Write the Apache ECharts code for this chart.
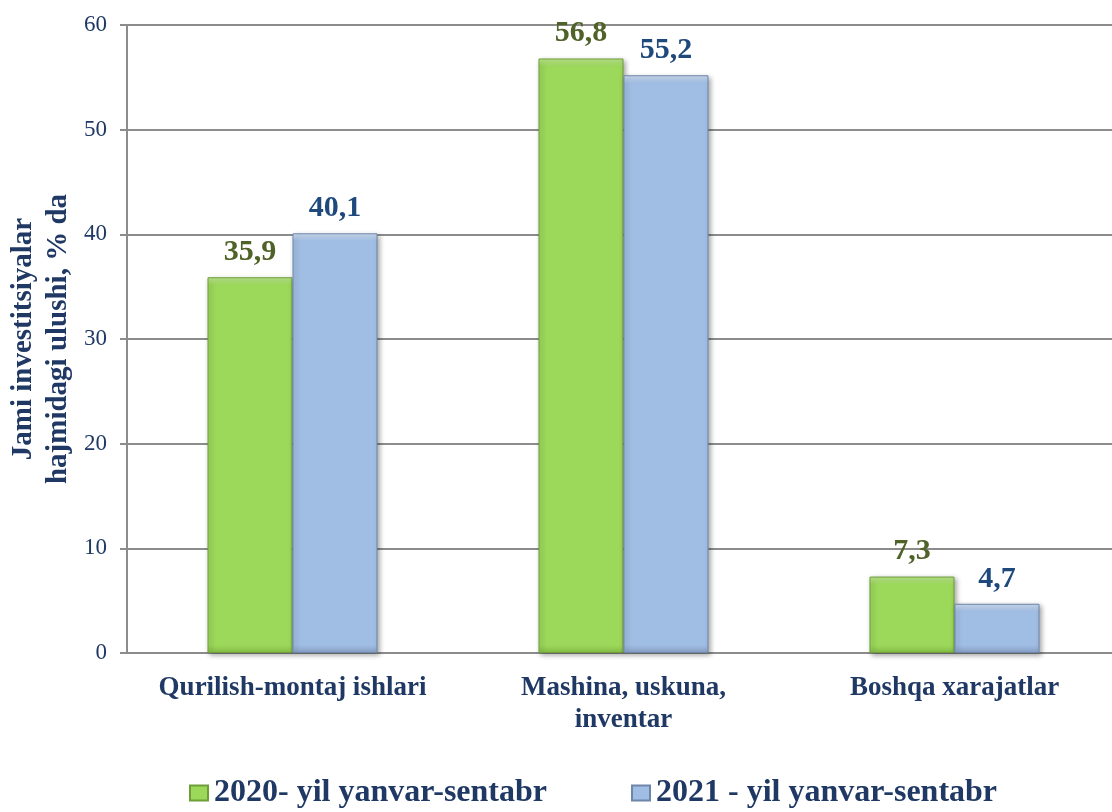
<!DOCTYPE html>
<html>
<head>
<meta charset="utf-8">
<script src="https://cdn.jsdelivr.net/npm/echarts@6/dist/echarts.min.js"></script>
<style>html,body{margin:0;padding:0;background:#fff;}#c{width:1112px;height:812px;}</style>
</head>
<body>
<div id="c"></div>
<script>
const categories = ['Qurilish-montaj ishlari', 'Mashina, uskuna,\ninventar', 'Boshqa xarajatlar'];
const series2020 = [35.9, 56.8, 7.3];
const series2021 = [40.1, 55.2, 4.7];
const seriesNames = ['2020- yil yanvar-sentabr', '2021 - yil yanvar-sentabr'];
const yTicks = [0, 10, 20, 30, 40, 50, 60];

const FONT = '"Liberation Serif", "Times New Roman", serif';
const NAVY = '#1F3864';
const PLOT_H = 628;
const chart = echarts.init(document.getElementById('c'));
const fmt = p => String(p.value).replace('.', ',');

// bevel-like gradient: light top band and darker bottom band of fixed pixel thickness
function bevel(v, top, body, bottom) {
  const h = v / yTicks[yTicks.length - 1] * PLOT_H;
  const t = Math.min(0.45, 8 / h);
  return new echarts.graphic.LinearGradient(0, 0, 0, 1, [
    { offset: 0, color: top },
    { offset: t, color: body },
    { offset: 1 - t, color: body },
    { offset: 1, color: bottom }
  ]);
}
const GREEN = ['#BDE98F', '#9CD85A', '#86BE48'];
const BLUE = ['#CFE0F5', '#A0BDE3', '#879FC6'];
const items = (arr, c) => arr.map(v => ({ value: v, itemStyle: { color: bevel(v, c[0], c[1], c[2]) } }));

chart.setOption({
  backgroundColor: '#fff',
  textStyle: { fontFamily: FONT },
  grid: { left: 127, top: 25, width: 993, height: PLOT_H, containLabel: false, outerBoundsMode: 'none' },
  legend: {
    top: 777,
    left: 189,
    padding: 0,
    itemWidth: 18,
    itemHeight: 15,
    itemGap: 84,
    icon: 'rect',
    textStyle: { fontFamily: FONT, fontSize: 32, fontWeight: 'bold', color: NAVY, padding: [0, 0, 0, 1] },
    data: seriesNames
  },
  xAxis: {
    type: 'category',
    data: categories,
    axisLine: { lineStyle: { color: '#8C8C8C', width: 2 } },
    axisTick: { show: false },
    axisLabel: { interval: 0, fontFamily: FONT, fontSize: 27, fontWeight: 'bold', color: NAVY, margin: 19, lineHeight: 32 }
  },
  yAxis: {
    type: 'value',
    min: yTicks[0],
    max: yTicks[yTicks.length - 1],
    interval: 10,
    name: 'Jami investitsiyalar\nhajmidagi ulushi, % da',
    nameLocation: 'middle',
    nameRotate: 90,
    nameGap: 51,
    nameMoveOverlap: false,
    nameTextStyle: { fontFamily: FONT, fontSize: 29, fontWeight: 'bold', color: NAVY, lineHeight: 35 },
    axisLine: { show: true, lineStyle: { color: '#8C8C8C', width: 2 } },
    axisTick: { show: true, length: 7, lineStyle: { color: '#8C8C8C', width: 2 } },
    axisLabel: { fontFamily: FONT, fontSize: 23, color: NAVY, margin: 20 },
    splitLine: { lineStyle: { color: '#8C8C8C', width: 2 } }
  },
  series: [
    {
      name: seriesNames[0],
      type: 'bar',
      data: items(series2020, GREEN),
      barWidth: 85,
      barGap: '0%',
      itemStyle: {
        color: GREEN[1],
        borderColor: '#6F9D38',
        borderWidth: 1,
        shadowColor: 'rgba(0,0,0,0.35)',
        shadowBlur: 5,
        shadowOffsetX: 2,
        shadowOffsetY: 2
      },
      label: { show: true, position: 'top', distance: 10, formatter: fmt, fontFamily: FONT, fontSize: 30, fontWeight: 'bold', color: '#4F6228' }
    },
    {
      name: seriesNames[1],
      type: 'bar',
      data: items(series2021, BLUE),
      barWidth: 85,
      itemStyle: {
        color: BLUE[1],
        borderColor: '#6E86A9',
        borderWidth: 1,
        shadowColor: 'rgba(0,0,0,0.35)',
        shadowBlur: 5,
        shadowOffsetX: 2,
        shadowOffsetY: 2
      },
      label: { show: true, position: 'top', distance: 10, formatter: fmt, fontFamily: FONT, fontSize: 30, fontWeight: 'bold', color: '#1F497D' }
    }
  ]
});
</script>
</body>
</html>
